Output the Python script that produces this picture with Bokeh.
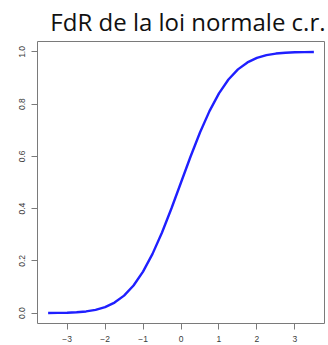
from bokeh.plotting import figure
from bokeh.models import FixedTicker, Title
from bokeh.embed import file_html
from bokeh.resources import INLINE

# Values (standard normal CDF)
x_vals = [-3.5, -3.25, -3.0, -2.75, -2.5, -2.25, -2.0, -1.75, -1.5, -1.25, -1.0,
          -0.75, -0.5, -0.25, 0.0, 0.25, 0.5, 0.75, 1.0, 1.25, 1.5, 1.75, 2.0,
          2.25, 2.5, 2.75, 3.0, 3.25, 3.5]
cdf_vals = [0.0002, 0.0006, 0.0013, 0.0030, 0.0062, 0.0122, 0.0228, 0.0401, 0.0668,
            0.1056, 0.1587, 0.2266, 0.3085, 0.4013, 0.5, 0.5987, 0.6915, 0.7734,
            0.8413, 0.8944, 0.9332, 0.9599, 0.9772, 0.9878, 0.9938, 0.9970,
            0.9987, 0.9994, 0.9998]
x_ticks = [-3, -2, -1, 0, 1, 2, 3]
y_ticks = [0.0, 0.2, 0.4, 0.6, 0.8, 1.0]
title_text = "FdR de la loi normale c.r."

p = figure(width=328, height=345, output_backend="svg", toolbar_location=None,
           x_range=(-3.78, 3.78), y_range=(-0.04, 1.04),
           frame_width=287, frame_height=282,
           min_border_left=37, min_border_right=4, min_border_top=41, min_border_bottom=22)

p.title = Title(text=title_text, align="right", vertical_align="top",
                text_font="Open Sans", text_font_size="24px", text_font_style="normal",
                text_color="#111111", standoff=3, offset=-1)

p.line(x_vals, cdf_vals, line_color="#1f1fff", line_width=2.4)

p.xgrid.visible = False
p.ygrid.visible = False
p.outline_line_color = "#7a7a7a"
p.outline_line_width = 1
p.background_fill_color = "white"
p.border_fill_color = "white"

for ax in (p.xaxis[0], p.yaxis[0]):
    ax.axis_line_color = None
    ax.major_tick_line_color = "#7a7a7a"
    ax.major_tick_out = 6
    ax.major_tick_in = 0
    ax.minor_tick_line_color = None
    ax.major_label_text_font = "Liberation Sans"
    ax.major_label_text_font_size = "8.5px"
    ax.major_label_text_color = "#3a3a3a"

p.xaxis[0].ticker = FixedTicker(ticks=x_ticks)
p.xaxis[0].major_label_overrides = {t: ("\u2212" + str(abs(t)) if t < 0 else str(t)) for t in x_ticks}
p.xaxis[0].major_label_standoff = 6
p.yaxis[0].ticker = FixedTicker(ticks=y_ticks)
p.yaxis[0].major_label_overrides = {t: f"{t:.1f}" for t in y_ticks}
p.yaxis[0].major_label_orientation = "vertical"
p.yaxis[0].major_label_standoff = 6

open("out.html", "w").write(file_html(p, INLINE))
